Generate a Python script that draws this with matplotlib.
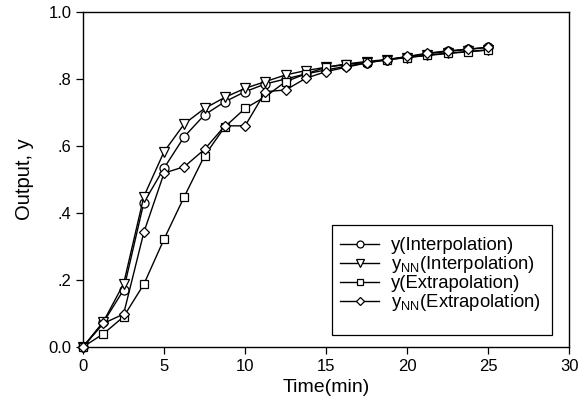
import matplotlib.pyplot as plt
import numpy as np
from matplotlib.patches import Rectangle

plt.rcParams['font.family'] = ['Liberation Sans', 'DejaVu Sans']
plt.rcParams['mathtext.fontset'] = 'custom'
plt.rcParams['mathtext.rm'] = 'Liberation Sans'
plt.rcParams['mathtext.it'] = 'Liberation Sans'

# time points (min)
time = [0, 1.25, 2.5, 3.75, 5, 6.25, 7.5, 8.75, 10, 11.25, 12.5,
        13.75, 15, 16.25, 17.5, 18.75, 20, 21.25, 22.5, 23.75, 25]

y_interp = [0, 0.073, 0.17, 0.431, 0.534, 0.628, 0.693, 0.732, 0.762, 0.785, 0.800,
            0.815, 0.827, 0.838, 0.848, 0.857, 0.866, 0.875, 0.882, 0.888, 0.894]
ynn_interp = [0, 0.075, 0.188, 0.449, 0.583, 0.666, 0.712, 0.745, 0.772, 0.792, 0.812,
              0.825, 0.835, 0.843, 0.850, 0.857, 0.864, 0.871, 0.877, 0.882, 0.887]
y_extrap = [0, 0.039, 0.09, 0.187, 0.322, 0.449, 0.571, 0.657, 0.712, 0.747, 0.792,
            0.815, 0.835, 0.845, 0.852, 0.858, 0.864, 0.870, 0.876, 0.881, 0.886]
ynn_extrap = [0, 0.070, 0.098, 0.342, 0.519, 0.538, 0.590, 0.660, 0.660, 0.762, 0.767,
              0.802, 0.822, 0.835, 0.848, 0.858, 0.867, 0.877, 0.884, 0.889, 0.895]

# (values, marker, plot size, legend size, label)
series = [
    (y_interp, "o", 6.5, 5.0, "y(Interpolation)"),
    (ynn_interp, "v", 6.5, 5.5, r"y$_{\mathrm{NN}}$(Interpolation)"),
    (y_extrap, "s", 6.0, 4.5, "y(Extrapolation)"),
    (ynn_extrap, "D", 5.3, 4.3, r"y$_{\mathrm{NN}}$(Extrapolation)"),
]

fig = plt.figure(figsize=(5.85, 4.12), dpi=100)
ax = fig.add_axes([0.142, 0.158, 0.831, 0.813])

for vals, mk, ms, _, lab in series:
    ax.plot(time, vals, marker=mk, markersize=ms, markerfacecolor="white",
            markeredgecolor="black", markeredgewidth=0.9, color="black",
            linewidth=1.0, label=lab, clip_on=False, zorder=3)

ax.set_xlim(0, 30)
ax.set_ylim(0, 1.0)
ax.set_xticks(np.arange(0, 31, 5))
ax.set_yticks([0, 0.2, 0.4, 0.6, 0.8, 1.0])
ax.set_yticklabels(["0.0", ".2", ".4", ".6", ".8", "1.0"])
ax.tick_params(direction="out", length=5, width=0.9, labelsize=12, top=False, right=False)
for sp in ax.spines.values():
    sp.set_linewidth(1.0)

ax.set_xlabel("Time(min)", fontsize=14, labelpad=4)
ax.set_ylabel("Output, y", fontsize=14.5, labelpad=10)

# legend box drawn separately (extra room below the entries, as in the original)
ax.add_patch(Rectangle((0.512, 0.036), 0.453, 0.328, transform=ax.transAxes,
                       facecolor="white", edgecolor="black", linewidth=0.9, zorder=4))
leg = ax.legend(loc="upper left", bbox_to_anchor=(0.529, 0.327), fontsize=13.3,
                frameon=False, handlelength=2.1, labelspacing=0.0, borderpad=0,
                handletextpad=0.65, borderaxespad=0)
leg.set_zorder(5)
for h, s in zip(leg.legend_handles, series):
    h.set_markersize(s[3])

plt.savefig("out.png", dpi=100)
